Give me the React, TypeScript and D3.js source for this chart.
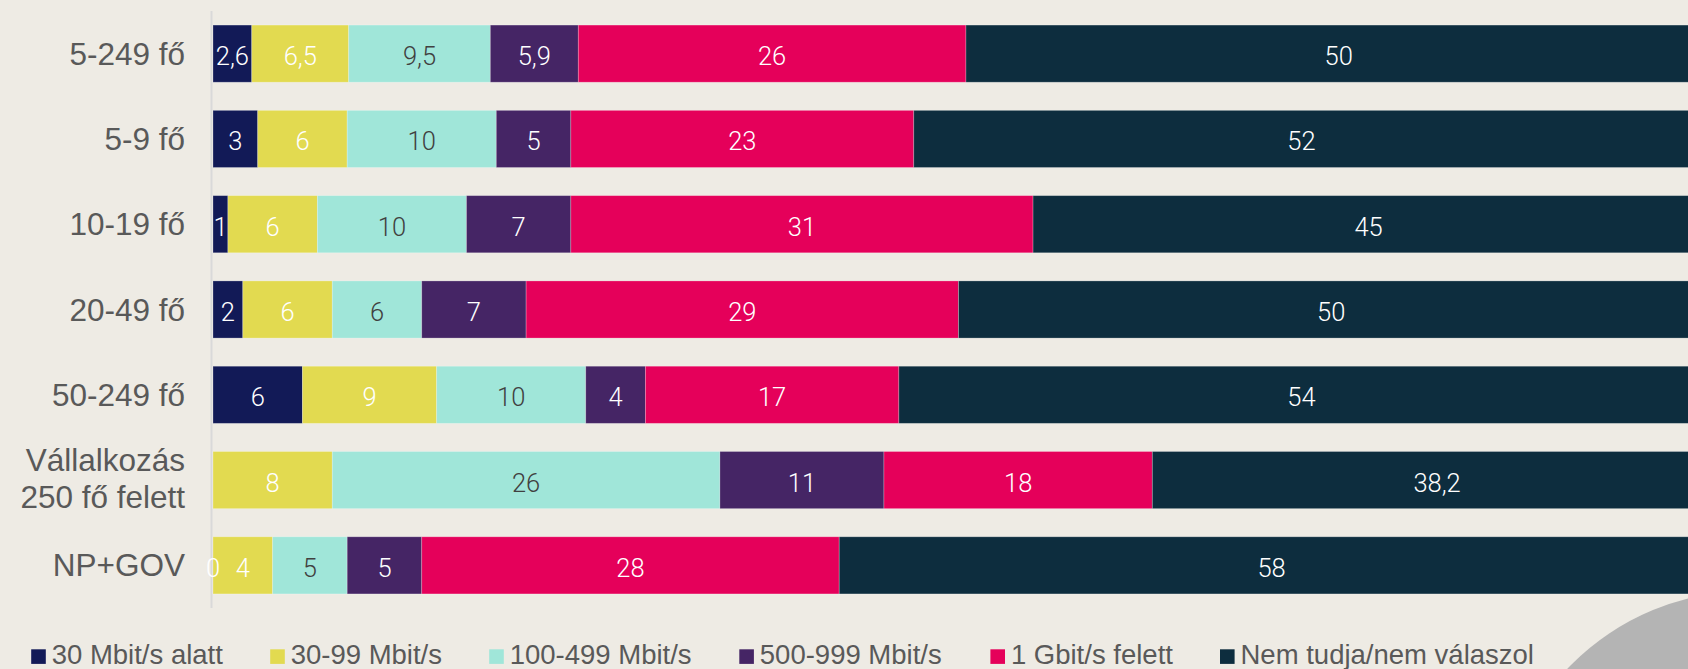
import React from 'react';
import * as d3 from 'd3';

const categories = ['5-249 fő', '5-9 fő', '10-19 fő', '20-49 fő', '50-249 fő', 'Vállalkozás\n250 fő felett', 'NP+GOV'];
const seriesNames = ['30 Mbit/s alatt', '30-99 Mbit/s', '100-499 Mbit/s', '500-999 Mbit/s', '1 Gbit/s felett', 'Nem tudja/nem válaszol'];
const below30: (number | null)[] = [2.6, 3, 1, 2, 6, null, 0];
const s30to99: (number | null)[] = [6.5, 6, 6, 6, 9, 8, 4];
const s100to499: (number | null)[] = [9.5, 10, 10, 6, 10, 26, 5];
const s500to999: (number | null)[] = [5.9, 5, 7, 7, 4, 11, 5];
const over1G: (number | null)[] = [26, 23, 31, 29, 17, 18, 28];
const unknown: (number | null)[] = [50, 52, 45, 50, 54, 38.2, 58];
const seriesValues = [below30, s30to99, s100to499, s500to999, over1G, unknown];

const colors = ['#121a57', '#e2da50', '#a0e6d9', '#452565', '#e5005a', '#0d2d3e'];
const labelColors = ['#ffffff', '#ffffff', '#404040', '#ffffff', '#ffffff', '#ffffff'];

const W = 1688;
const H = 669;
const BG = '#eeebe4';

export default function App() {
  const x = d3.scaleLinear().domain([0, 100]).range([213, 1704]);
  const y = d3.scaleBand<string>().domain(categories).range([11, 608]).paddingInner(0.33).paddingOuter(0.165);

  const rows = categories.map((c, i) => {
    const r: Record<string, any> = { cat: c };
    seriesNames.forEach((s, j) => { r[s] = seriesValues[j][i] ?? 0; });
    return r;
  });
  const stacked = d3.stack<any>().keys(seriesNames)(rows);

  const fmt = (v: number) => String(v).replace('.', ',');
  const legendX = [31.2, 270.2, 489.2, 739.3, 990.4, 1220];

  return (
    <svg width={W} height={H} style={{ position: 'absolute', left: 0, top: 0, display: 'block' }}>
      <rect x={0} y={0} width={W} height={H} fill={BG} />
      <circle cx={1749} cy={842} r={251} fill="#b4b4b4" />
      <line x1={211.5} x2={211.5} y1={11} y2={608} stroke="#d9d9d9" strokeWidth={2} />
      {categories.map((c) => {
        const cy = (y(c) as number) + y.bandwidth() / 2;
        const lines = c.split('\n');
        return (
          <text key={c} x={185} textAnchor="end" fontFamily="'Liberation Sans', Arial, sans-serif" fontSize={31.5} fill="#595959">
            {lines.length === 1 ? (
              <tspan x={185} y={cy + 11}>{lines[0]}</tspan>
            ) : (
              lines.map((l, k) => (
                <tspan key={k} x={185} y={cy - 8.6 + k * 36.6}>{l}</tspan>
              ))
            )}
          </text>
        );
      })}
      {stacked.map((layer, j) => (
        <g key={layer.key}>
          {layer.map((d, i) => {
            const raw = seriesValues[j][i];
            if (raw === null || raw <= 0) return null;
            const x0 = x(d[0]);
            const x1 = x(d[1]);
            const yy = y(categories[i]) as number;
            return (
              <rect key={i} x={x0} y={yy} width={x1 - x0} height={y.bandwidth()} fill={colors[j]}
                stroke="#ffffff" strokeOpacity={0.3} strokeWidth={0.8} />
            );
          })}
        </g>
      ))}
      {stacked.map((layer, j) => (
        <g key={'l' + layer.key}>
          {layer.map((d, i) => {
            const raw = seriesValues[j][i];
            if (raw === null) return null;
            const x0 = x(d[0]);
            const x1 = x(d[1]);
            const yy = y(categories[i]) as number;
            return (
              <text key={i} x={(x0 + x1) / 2} y={yy + y.bandwidth() / 2} dy="0.45em" textAnchor="middle"
                fontFamily="Roboto, sans-serif" fontWeight={300} fontSize={25.5} fill={labelColors[j]}>
                {fmt(raw)}
              </text>
            );
          })}
        </g>
      ))}
      {seriesNames.map((s, j) => (
        <g key={s}>
          <rect x={legendX[j]} y={649.3} width={14.6} height={14.6} fill={colors[j]} />
          <text x={legendX[j] + 20.5} y={664} fontFamily="'Liberation Sans', Arial, sans-serif" fontSize={27.5} fill="#595959">{s}</text>
        </g>
      ))}
    </svg>
  );
}
